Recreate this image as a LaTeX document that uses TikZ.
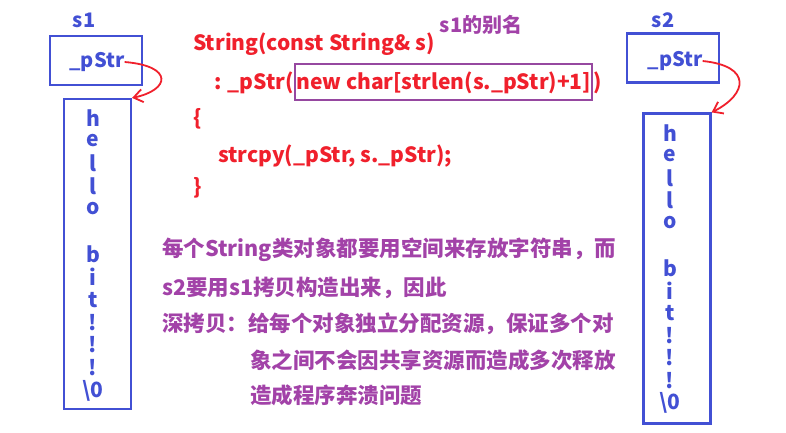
\documentclass[tikz,border=0pt]{standalone}
\usepackage{fontspec}
\setmainfont{Noto Sans CJK SC}
\usepackage{tikz}
\usetikzlibrary{arrows.meta,positioning}
\definecolor{boxblue}{RGB}{66,80,212}
\definecolor{codered}{RGB}{240,32,44}
\definecolor{notepurple}{RGB}{162,66,168}
\definecolor{framepurple}{RGB}{150,72,160}
\tikzset{
  objbox/.style={draw=boxblue,line width=2.2pt,minimum width=92pt,
    minimum height=49pt,inner sep=0pt},
  membox/.style={draw=boxblue,line width=2.2pt,minimum width=67pt,
    minimum height=310pt,inner sep=0pt},
  bluetext/.style={text=boxblue,font=\bfseries\fontsize{20}{22}\selectfont,
    inner sep=0pt},
  strch/.style={text=boxblue,font=\bfseries\fontsize{21}{22}\selectfont,
    inner sep=0pt},
  codeline/.style={text=codered,font=\bfseries\fontsize{21}{24}\selectfont,
    anchor=base west,inner sep=0pt},
  noteline/.style={text=notepurple,font=\bfseries\fontsize{21.5}{24}\selectfont,
    anchor=base west,inner sep=0pt},
  ptr/.style={-{Straight Barb[length=9pt,width=13pt]},draw=codered,
    line width=1.8pt},
  hilite/.style={draw=framepurple,line width=2pt,inner xsep=1pt,
    inner ysep=0pt,minimum height=36pt}
}

\begin{document}
\begin{tikzpicture}[x=1pt,y=-1pt]
  \useasboundingbox[fill=white] (0,0) rectangle (786,432);
  % s1 and its buffer
  \node[bluetext] (s1lbl) at (84,20) {s1};
  \node[objbox] (s1box) at (96,60.5) {};
  \node[bluetext] (s1ptr) at (97,62) {\_pStr};
  \node[membox] (s1str) at (97.5,254) {};
  \foreach \ch [count=\i] in {h,e,l,l,o,{},b,i,t,!,!,!,\textbackslash 0}
    \node[strch] (s1c\i) at (93,{118+(\i-1)*22.7}) {\ch};
  \draw[ptr] (s1ptr.east) .. controls (174,66) and (170,90) .. (s1str.north east);
  % s2 and its buffer
  \node[bluetext] (s2lbl) at (663,20) {s2};
  \node[objbox] (s2box) at (673,58) {};
  \node[bluetext] (s2ptr) at (675,61) {\_pStr};
  \node[membox] (s2str) at (677,268.5) {};
  \foreach \ch [count=\i] in {h,e,l,l,o,{},b,i,t,!,!,!,\textbackslash 0}
    \node[strch] (s2c\i) at (670,{133+(\i-1)*22.5}) {\ch};
  \draw[ptr] (s2ptr.east) .. controls (752,66) and (748,94) .. (s2str.north east);
  % copy constructor
  \node[codeline] (code1) at (193,50) {String(const String\& s)};
  \node[text=notepurple,font=\bfseries\fontsize{20}{22}\selectfont,inner sep=0pt]
    (alias) at (481,25) {s1的别名};
  \node[codeline] (code2) at (214,89) {: \_pStr(};
  \node[codeline,hilite] (newexpr) at (code2.base east) {new char[strlen(s.\_pStr)+1]};
  \node[codeline] (code2b) at (newexpr.base east) {)};
  \node[codeline] (code3) at (193,125) {\{};
  \node[codeline] (code4) at (218,162) {strcpy(\_pStr, s.\_pStr);};
  \node[codeline] (code5) at (193,194) {\}};
  % explanation
  \node[noteline] (note1) at (162,256) {每个String类对象都要用空间来存放字符串，而};
  \node[noteline] (note2) at (162,295) {s2要用s1拷贝构造出来，因此};
  \node[noteline] (note3) at (162,331) {深拷贝：给每个对象独立分配资源，保证多个对};
  \node[noteline] (note4) at (250,368) {象之间不会因共享资源而造成多次释放};
  \node[noteline] (note5) at (250,403) {造成程序奔溃问题};
\end{tikzpicture}
\end{document}
